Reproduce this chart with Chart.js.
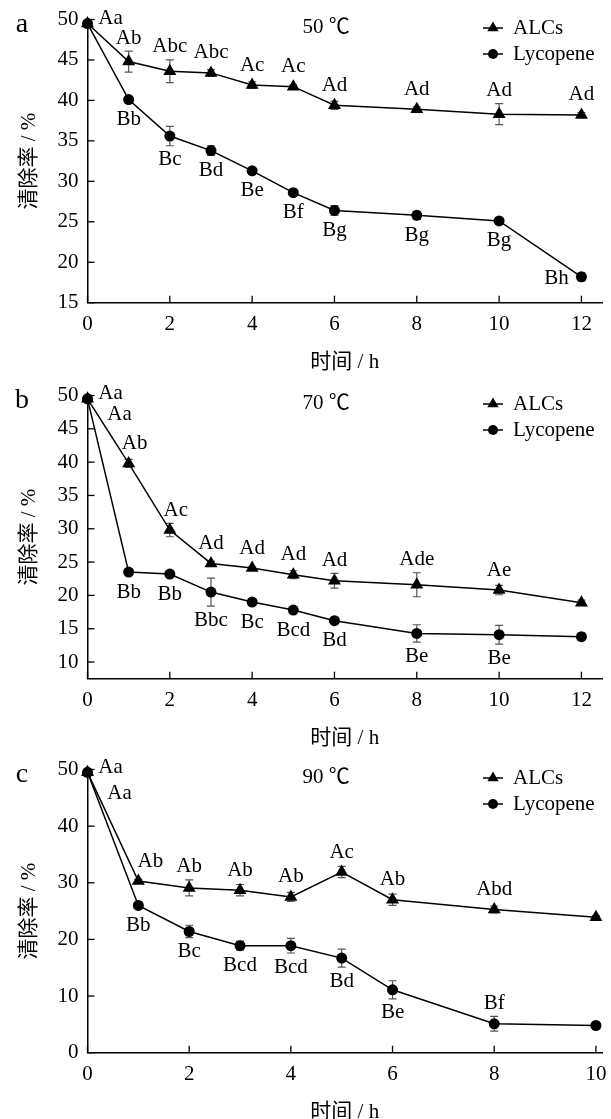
<!DOCTYPE html>
<html>
<head>
<meta charset="utf-8">
<script src="https://cdn.jsdelivr.net/npm/chart.js@4.4.0/dist/chart.umd.min.js"></script>
<style>
  body { margin: 0; background: #fff; }
  #wrap { position: relative; width: 611px; height: 1119px; overflow: hidden; }
  .panel { position: absolute; left: 0; width: 611px; height: 373px; }
</style>
</head>
<body>
<div id="wrap">
  <div class="panel" style="top:0px"><canvas id="chartA"></canvas></div>
  <div class="panel" style="top:376px"><canvas id="chartB"></canvas></div>
  <div class="panel" style="top:750px"><canvas id="chartC"></canvas></div>
</div>
<script>
// ===== DATA =====
const seriesNames = ["ALCs", "Lycopene"];
const timeAB = [0, 1, 2, 3, 4, 5, 6, 8, 10, 12];
const timeC = [0, 1, 2, 3, 4, 5, 6, 8, 10];

// 50 ℃
const alcs50 = [49.5, 44.8, 43.6, 43.4, 41.9, 41.7, 39.4, 38.9, 38.3, 38.2];
const alcs50Err = [0, 1.3, 1.4, 0.4, 0.4, 0.2, 0.5, 0.3, 1.3, 0.3];
const lyco50 = [49.5, 40.1, 35.6, 33.8, 31.3, 28.6, 26.4, 25.8, 25.1, 18.2];
const lyco50Err = [0, 0.2, 1.2, 0.6, 0.2, 0.3, 0.6, 0.5, 0.3, 0.5];
const alcs50Text = ["Aa", "Ab", "Abc", "Abc", "Ac", "Ac", "Ad", "Ad", "Ad", "Ad"];
const lyco50Text = ["", "Bb", "Bc", "Bd", "Be", "Bf", "Bg", "Bg", "Bg", "Bh"];

// 70 ℃
const alcs70 = [49.5, 39.8, 29.8, 24.8, 24.1, 23.1, 22.2, 21.6, 20.8, 18.9];
const alcs70Err = [0, 0.6, 1.0, 0.3, 0.2, 0.6, 1.1, 1.8, 0.7, 0.4];
const lyco70 = [49.5, 23.5, 23.2, 20.5, 19.0, 17.8, 16.2, 14.3, 14.1, 13.8];
const lyco70Err = [0, 0.3, 0.5, 2.1, 0.5, 0.5, 0.2, 1.3, 1.4, 0.5];
const alcs70Text = ["Aa", "Ab", "Ac", "Ad", "Ad", "Ad", "Ad", "Ade", "Ae", ""];
const lyco70Text = ["Aa", "Bb", "Bb", "Bbc", "Bc", "Bcd", "Bd", "Be", "Be", ""];

// 90 ℃
const alcs90 = [49.5, 30.3, 29.1, 28.7, 27.5, 31.9, 27.0, 25.3, 23.9];
const alcs90Err = [0, 0.3, 1.4, 1.0, 0.8, 1.0, 1.0, 0.6, 0.3];
const lyco90 = [49.5, 26.0, 21.4, 18.9, 18.9, 16.7, 11.1, 5.1, 4.8];
const lyco90Err = [0, 0.3, 1.1, 0.8, 1.3, 1.6, 1.6, 1.3, 0.3];
const alcs90Text = ["Aa", "Ab", "Ab", "Ab", "Ab", "Ac", "Ab", "Abd", ""];
const lyco90Text = ["Aa", "Bb", "Bc", "Bcd", "Bcd", "Bd", "Be", "Bf", ""];

// ===== STYLE =====
const serif = "'Liberation Serif', 'Times New Roman', 'Noto Sans CJK SC', serif";
const fontMain = { family: serif, size: 21 };

function drawMarker(ctx, style, x, y, r) {
  ctx.beginPath();
  if (style === "triangle") {
    ctx.moveTo(x, y - r);
    ctx.lineTo(x + r * 0.866, y + r * 0.5);
    ctx.lineTo(x - r * 0.866, y + r * 0.5);
    ctx.closePath();
  } else {
    ctx.arc(x, y, r, 0, Math.PI * 2);
  }
  ctx.fill();
}

// error bars, inward ticks, point letters, legend, panel text
const decorPlugin = {
  id: "decor",
  beforeDatasetsDraw(chart) {
    const ctx = chart.ctx;
    const xs = chart.scales.x, ys = chart.scales.y;
    const area = chart.chartArea;
    ctx.save();
    ctx.strokeStyle = "#555";
    ctx.lineWidth = 1.2;
    chart.data.datasets.forEach(ds => {
      ds.data.forEach((p, i) => {
        const e = ds.errors[i];
        if (!e) return;
        const px = xs.getPixelForValue(p.x);
        const y1 = ys.getPixelForValue(p.y + e);
        const y2 = ys.getPixelForValue(p.y - e);
        ctx.beginPath();
        ctx.moveTo(px, y1); ctx.lineTo(px, y2);
        ctx.moveTo(px - 4, y1); ctx.lineTo(px + 4, y1);
        ctx.moveTo(px - 4, y2); ctx.lineTo(px + 4, y2);
        ctx.stroke();
      });
    });
    ctx.strokeStyle = "#000";
    ctx.lineWidth = 1.3;
    xs.ticks.forEach(t => {
      const px = xs.getPixelForValue(t.value);
      ctx.beginPath();
      ctx.moveTo(px, area.bottom);
      ctx.lineTo(px, area.bottom - 7);
      ctx.stroke();
    });
    ys.ticks.forEach(t => {
      const py = ys.getPixelForValue(t.value);
      ctx.beginPath();
      ctx.moveTo(area.left, py);
      ctx.lineTo(area.left + 7, py);
      ctx.stroke();
    });
    ctx.restore();
  },
  afterDatasetsDraw(chart, args, opts) {
    const ctx = chart.ctx;
    const xs = chart.scales.x, ys = chart.scales.y;
    ctx.save();
    ctx.fillStyle = "#000";
    ctx.font = "21px " + serif;
    ctx.textAlign = "center";
    ctx.textBaseline = "middle";
    chart.data.datasets.forEach((ds, di) => {
      ds.data.forEach((p, i) => {
        const txt = ds.pointTexts[i];
        if (!txt) return;
        const px = xs.getPixelForValue(p.x);
        const py = ys.getPixelForValue(p.y);
        const errPx = Math.abs(ys.getPixelForValue(p.y + ds.errors[i]) - py);
        const place = opts.place[di + "-" + i] || {};
        const side = place.side || (di === 0 ? "above" : "below");
        let dy = side === "above" ? -Math.max(20, errPx + 13) : Math.max(20, errPx + 14);
        if (place.dy !== undefined) dy = place.dy;
        ctx.fillText(txt, px + (place.dx || 0), py + dy);
      });
    });

    // legend
    const lg = opts.legend;
    chart.data.datasets.forEach((ds, di) => {
      const y = lg.rows[di];
      ctx.strokeStyle = "#000";
      ctx.lineWidth = 1.5;
      ctx.beginPath();
      ctx.moveTo(lg.x - 10, y);
      ctx.lineTo(lg.x + 10, y);
      ctx.stroke();
      drawMarker(ctx, ds.pointStyle, lg.x, y, ds.pointStyle === "triangle" ? 6.5 : 5);
      ctx.textAlign = "left";
      ctx.fillText(ds.label, lg.x + 20, y);
    });

    // panel letter and temperature
    ctx.textAlign = "center";
    ctx.textBaseline = "alphabetic";
    ctx.font = "28px " + serif;
    ctx.fillText(opts.letter, 22, 32);
    ctx.font = "21px " + serif;
    ctx.textBaseline = "middle";
    ctx.fillText(opts.temp, 326, 27);
    ctx.restore();
  }
};

function makeDataset(label, times, values, errors, texts, style, radius, order) {
  return {
    label: label,
    data: times.map((t, i) => ({ x: t, y: values[i] })),
    errors: errors,
    pointTexts: texts,
    borderColor: "#000",
    backgroundColor: "#000",
    borderWidth: 1.5,
    pointStyle: style,
    pointRadius: radius,
    pointBorderWidth: 0,
    pointBackgroundColor: "#000",
    clip: false,
    order: order,
    tension: 0
  };
}

function makeChart(id, cfg) {
  const ctx = document.getElementById(id).getContext("2d");
  return new Chart(ctx, {
    type: "line",
    data: {
      datasets: [
        makeDataset(seriesNames[0], cfg.times, cfg.alcs, cfg.alcsErr, cfg.alcsText, "triangle", 7.5, 1),
        makeDataset(seriesNames[1], cfg.times, cfg.lyco, cfg.lycoErr, cfg.lycoText, "circle", 5.5, 0)
      ]
    },
    options: {
      responsive: true,
      maintainAspectRatio: false,
      animation: false,
      layout: { padding: { top: 19.5, right: 9, left: 0, bottom: 0 } },
      plugins: {
        legend: { display: false },
        tooltip: { enabled: false },
        decor: {
          letter: cfg.letter,
          temp: cfg.temp,
          place: cfg.place,
          legend: { x: 493, rows: [28, 54] }
        }
      },
      scales: {
        x: {
          type: "linear",
          min: 0,
          max: cfg.xMax,
          grid: { display: false },
          border: { color: "#000", width: 1.5 },
          ticks: { stepSize: 2, includeBounds: false, color: "#000", font: fontMain, padding: 1, maxRotation: 0 },
          title: { display: true, text: "时间 / h", color: "#000", font: fontMain, padding: { top: 0, bottom: -2 } },
          afterFit: s => { s.height = 70.3; }
        },
        y: {
          min: cfg.yMin,
          max: 50,
          grid: { display: false },
          border: { color: "#000", width: 1.5 },
          ticks: { stepSize: cfg.yStep, includeBounds: false, color: "#000", font: fontMain, padding: 1 },
          title: { display: true, text: "清除率 / %", color: "#000", font: fontMain, padding: { top: 17, bottom: 0 } },
          afterFit: s => { s.width = 87.5; }
        }
      }
    },
    plugins: [decorPlugin]
  });
}

makeChart("chartA", {
  letter: "a", temp: "50 ℃", times: timeAB, xMax: 12.5, yMin: 15, yStep: 5,
  alcs: alcs50, alcsErr: alcs50Err, alcsText: alcs50Text,
  lyco: lyco50, lycoErr: lyco50Err, lycoText: lyco50Text,
  place: { "0-0": { dx: 23, dy: -5 }, "1-9": { dx: -25, dy: 2 } }
});

makeChart("chartB", {
  letter: "b", temp: "70 ℃", times: timeAB, xMax: 12.5, yMin: 7.5, yStep: 5,
  alcs: alcs70, alcsErr: alcs70Err, alcsText: alcs70Text,
  lyco: lyco70, lycoErr: lyco70Err, lycoText: lyco70Text,
  place: { "0-0": { dx: 23, dy: -5 }, "1-0": { dx: 32, dy: 16 }, "0-1": { dx: 6 }, "0-2": { dx: 6 } }
});

makeChart("chartC", {
  letter: "c", temp: "90 ℃", times: timeC, xMax: 10.12, yMin: 0, yStep: 10,
  alcs: alcs90, alcsErr: alcs90Err, alcsText: alcs90Text,
  lyco: lyco90, lycoErr: lyco90Err, lycoText: lyco90Text,
  place: { "0-0": { dx: 23, dy: -5 }, "1-0": { dx: 32, dy: 21 }, "0-1": { dx: 12 }, "1-7": { side: "above" } }
});
</script>
</body>
</html>
